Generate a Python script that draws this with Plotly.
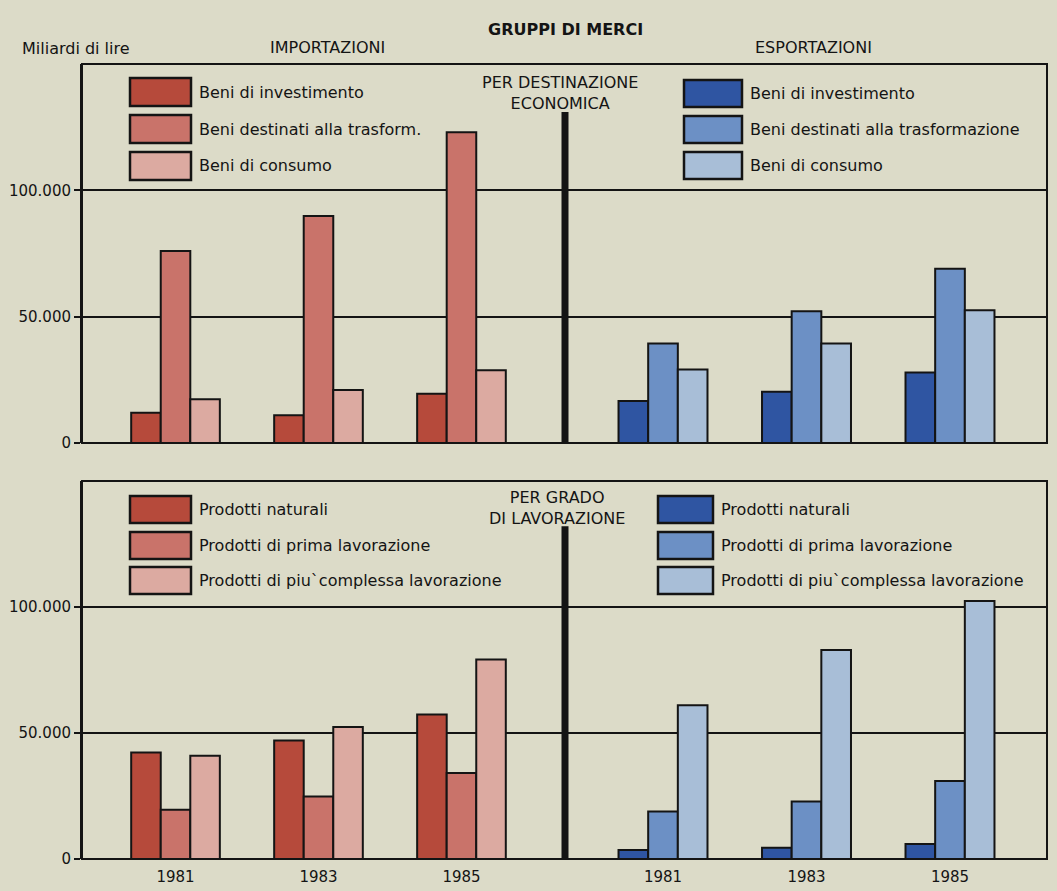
"""Importazioni ed esportazioni per gruppi di merci, 1981-1985."""

import plotly.graph_objects as go

# --- data (miliardi di lire) ---
YEARS = ["1981", "1983", "1985"]

DEST_IMP_LABELS = ["Beni di investimento", "Beni destinati alla trasform.", "Beni di consumo"]
DEST_EXP_LABELS = ["Beni di investimento", "Beni destinati alla trasformazione", "Beni di consumo"]
GRADO_LABELS = ["Prodotti naturali", "Prodotti di prima lavorazione",
                "Prodotti di piu`complessa lavorazione"]

IMP_INVESTIMENTO = [12000, 11000, 19500]
IMP_TRASFORMAZIONE = [76000, 89800, 123000]
IMP_CONSUMO = [17300, 21000, 28800]

EXP_INVESTIMENTO = [16600, 20300, 27900]
EXP_TRASFORMAZIONE = [39400, 52100, 69000]
EXP_CONSUMO = [29100, 39400, 52500]

IMP_NATURALI = [42300, 47000, 57300]
IMP_PRIMA = [19500, 24800, 34100]
IMP_COMPLESSA = [41000, 52400, 79200]

EXP_NATURALI = [3600, 4500, 6000]
EXP_PRIMA = [18800, 22800, 31000]
EXP_COMPLESSA = [61000, 82900, 102400]

Y_TICKS = [0, 50000, 100000]
Y_TICKTEXT = ["0", "50.000", "100.000"]

# --- style ---
REDS = ["#b64a3b", "#c9736a", "#dcaaa1"]
BLUES = ["#2f55a2", "#6c90c5", "#a8bed7"]
BG = "#dcdbc8"
INK = "#141414"
FONT = "DejaVu Sans"

W, H = 1057, 891
M_L, M_R, M_T, M_B = 82, 10, 64, 32
PW, PH = W - M_L - M_R, H - M_T - M_B


def px(x):
    return (x - M_L) / PW


def py(y):
    return (H - M_B - y) / PH


TOP_DOMAIN = [py(443), py(64)]
BOT_DOMAIN = [py(859), py(481)]

fig = go.Figure()

panels = [
    ("x", "y", [IMP_INVESTIMENTO, IMP_TRASFORMAZIONE, IMP_CONSUMO], REDS),
    ("x2", "y2", [EXP_INVESTIMENTO, EXP_TRASFORMAZIONE, EXP_CONSUMO], BLUES),
    ("x3", "y3", [IMP_NATURALI, IMP_PRIMA, IMP_COMPLESSA], REDS),
    ("x4", "y4", [EXP_NATURALI, EXP_PRIMA, EXP_COMPLESSA], BLUES),
]
for xa, ya, series, colors in panels:
    for vals, col in zip(series, colors):
        fig.add_trace(go.Bar(
            x=YEARS, y=vals, xaxis=xa, yaxis=ya, showlegend=False,
            marker={"color": col, "line": {"color": INK, "width": 2}},
        ))

# axes (automargin off, the default template would otherwise shrink the plot)
x_common = dict(type="category", showgrid=False, zeroline=False, showline=False,
                ticks="", fixedrange=True, automargin=False)
imp_range = [-0.654, 2.724]
exp_range = [-0.683, 2.676]
fig.update_layout(
    xaxis=dict(x_common, domain=[0, px(565)], anchor="y", range=imp_range, showticklabels=False),
    xaxis2=dict(x_common, domain=[px(565), 1], anchor="y2", range=exp_range, showticklabels=False),
    xaxis3=dict(x_common, domain=[0, px(565)], anchor="y3", range=imp_range,
                ticklabelstandoff=7),
    xaxis4=dict(x_common, domain=[px(565), 1], anchor="y4", range=exp_range,
                ticklabelstandoff=7),
)
y_common = dict(range=[0, 150000], tickvals=Y_TICKS, ticktext=Y_TICKTEXT,
                showgrid=True, gridcolor=INK, gridwidth=1.5, automargin=False,
                zeroline=True, zerolinecolor=INK, zerolinewidth=2, fixedrange=True)
fig.update_layout(
    yaxis=dict(y_common, domain=TOP_DOMAIN, anchor="x", ticks="outside", ticklen=6,
               tickcolor=INK, tickwidth=1.5, showline=True, linecolor=INK, linewidth=2),
    yaxis2=dict(y_common, domain=TOP_DOMAIN, anchor="x2", showticklabels=False),
    yaxis3=dict(y_common, domain=BOT_DOMAIN, anchor="x3", ticks="outside", ticklen=6,
                tickcolor=INK, tickwidth=1.5, showline=True, linecolor=INK, linewidth=2),
    yaxis4=dict(y_common, domain=BOT_DOMAIN, anchor="x4", showticklabels=False),
)

shapes = []
# panel frames
for dom in (TOP_DOMAIN, BOT_DOMAIN):
    shapes.append(dict(type="rect", xref="paper", yref="paper", x0=0, x1=1,
                       y0=dom[0], y1=dom[1], line={"color": INK, "width": 2}))
# thick central dividers
shapes.append(dict(type="line", xref="paper", yref="y", x0=px(565), x1=px(565),
                   y0=0, y1=131000, line={"color": INK, "width": 7}))
shapes.append(dict(type="line", xref="paper", yref="y3", x0=px(565), x1=px(565),
                   y0=0, y1=132000, line={"color": INK, "width": 7}))

annotations = []


def legend_block(x0, x1, tops, height, text_x, labels, colors):
    for top, lab, col in zip(tops, labels, colors):
        shapes.append(dict(type="rect", xref="paper", yref="paper",
                           x0=px(x0), x1=px(x1), y0=py(top + height), y1=py(top),
                           fillcolor=col, line={"color": INK, "width": 2.5}))
        annotations.append(dict(xref="paper", yref="paper", x=px(text_x),
                                y=py(top + height / 2), text=lab, showarrow=False,
                                xanchor="left", yanchor="middle",
                                font={"size": 16, "color": INK, "family": FONT}))


legend_block(130, 191, [78, 115, 152], 28, 197, DEST_IMP_LABELS, REDS)
legend_block(684, 742, [80, 116, 152], 27, 748, DEST_EXP_LABELS, BLUES)
legend_block(130, 191, [496, 532, 567], 27, 197, GRADO_LABELS, REDS)
legend_block(658, 713, [496, 532, 567], 27, 719, GRADO_LABELS, BLUES)


def label(x, y, text, anchor="center", size=16, bold=False):
    annotations.append(dict(xref="paper", yref="paper", x=px(x), y=py(y), text=text,
                            showarrow=False, xanchor=anchor, yanchor="middle",
                            font={"size": size, "color": INK, "family": FONT,
                                  "weight": "bold" if bold else "normal"}))


label(565, 29, "GRUPPI DI MERCI", size=16, bold=True)
label(20, 48, "Miliardi di lire", anchor="left")
label(327, 47, "IMPORTAZIONI")
label(813, 47, "ESPORTAZIONI")
label(560, 93, "PER DESTINAZIONE<br>ECONOMICA")
label(557, 508, "PER GRADO<br>DI LAVORAZIONE")

fig.update_layout(
    width=W, height=H,
    margin={"l": M_L, "r": M_R, "t": M_T, "b": M_B},
    paper_bgcolor=BG, plot_bgcolor=BG,
    font={"family": FONT, "size": 15, "color": INK},
    barmode="group", bargap=0.38, bargroupgap=0,
    shapes=shapes, annotations=annotations,
)

# drop the page's default 8px body margin so the figure fills the window
fig.write_html("out.html", config={"displayModeBar": False},
               post_script="document.body.style.margin = '0';")
